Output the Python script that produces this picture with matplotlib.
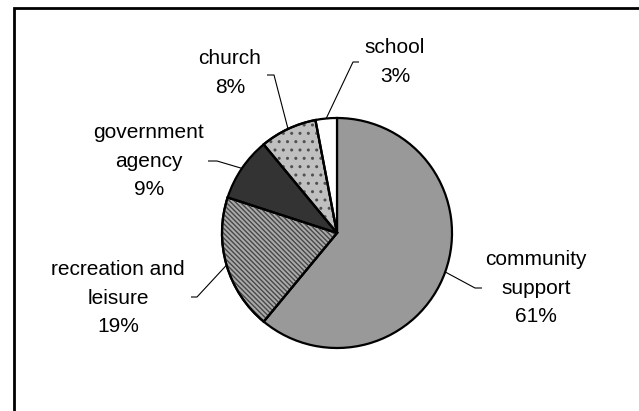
import numpy as np
import matplotlib.pyplot as plt
from matplotlib.patches import Wedge

plt.rcParams['font.family'] = ['Liberation Sans', 'DejaVu Sans']
plt.rcParams['hatch.linewidth'] = 1.0

# data
labels = ['community\nsupport', 'recreation and\nleisure', 'government\nagency', 'church', 'school']
shares = [61, 19, 9, 8, 3]

faces = ['#999999', '#aaaaaa', '#333333', '#c0c0c0', '#ffffff']
# (hatch pattern, hatch colour) per slice
patterns = [None, ('\\' * 7, '#484848'), None, ('..', '#505050'), None]

W, H = 639, 411
fig = plt.figure(figsize=(W / 100, H / 100), dpi=100)
ax = fig.add_axes([0, 0, 1, 1])

cx, cy, r = 337, H - 233, 115
wedges, _ = ax.pie(shares, startangle=90, counterclock=False, center=(cx, cy), radius=r,
                   colors=faces, wedgeprops=dict(edgecolor='black', linewidth=1.6),
                   frame=True)
ax.set_xlim(0, W)
ax.set_ylim(0, H)
ax.set_aspect('equal')
ax.axis('off')

# hatching drawn as separate overlays so the hatch colour differs from the black outline
for w, pat in zip(wedges, patterns):
    if pat is None:
        continue
    hatch, hcol = pat
    over = Wedge((cx, cy), r, w.theta1, w.theta2, facecolor='none', edgecolor=hcol,
                 linewidth=0, hatch=hatch, zorder=w.get_zorder() + 0.1)
    ax.add_patch(over)
    outline = Wedge((cx, cy), r, w.theta1, w.theta2, facecolor='none', edgecolor='black',
                    linewidth=1.6, zorder=w.get_zorder() + 0.2)
    ax.add_patch(outline)

# label block centres, elbow of leader and end of the short horizontal tick (pixels from top-left)
label_xy = [(536, 288), (118, 298), (149, 161), (230, 73), (395, 62)]
elbows = [((475, 288), (482, 288)), ((197, 297), (191, 297)), ((217, 161), (208, 161)),
          ((274, 75), (267, 75)), ((353, 62), (359, 62))]

for w, lab, pct, (lx, ly), (e1, e2) in zip(wedges, labels, shares, label_xy, elbows):
    mid = np.deg2rad((w.theta1 + w.theta2) / 2)
    sx, sy = cx + r * np.cos(mid), cy + r * np.sin(mid)
    ax.plot([sx, e1[0], e2[0]], [sy, H - e1[1], H - e2[1]], color='black', lw=0.8,
            solid_capstyle='butt', zorder=1)
    ax.text(lx, H - ly, f'{lab}\n{pct}%', ha='center', va='center', multialignment='center',
            fontsize=15, linespacing=1.65, color='black')

# chart area border (only the top and left sides fall inside the image)
ax.plot([14, 14, W + 5], [-5, H - 8, H - 8], color='black', lw=2, solid_joinstyle='miter')

fig.savefig('out.png', dpi=100)
